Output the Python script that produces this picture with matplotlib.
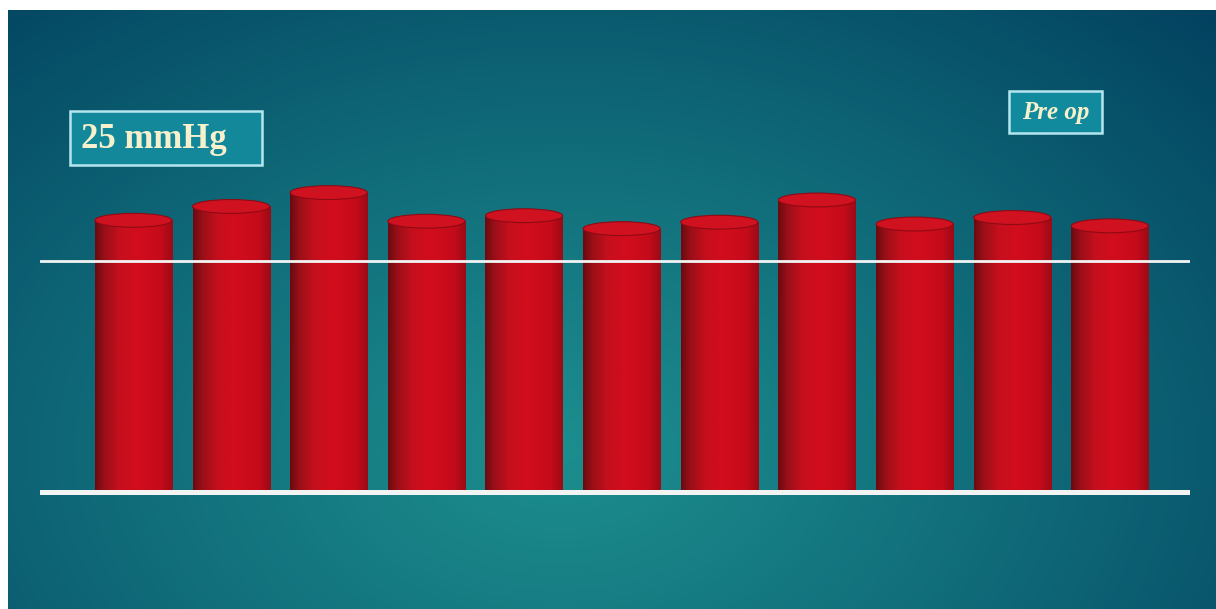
import numpy as np
import matplotlib
matplotlib.use('Agg')
import matplotlib.pyplot as plt
from matplotlib.patches import Ellipse, Rectangle
from matplotlib.colors import LinearSegmentedColormap

# pressure per patient, pre op (mmHg)
patients = np.arange(11)
pressures = [29.4, 30.9, 32.4, 29.3, 29.9, 28.5, 29.2, 31.6, 29.0, 29.7, 28.8]
ref_level = 25
ref_label = '25 mmHg'
group_label = 'Pre op'

W, H = 1216, 609
fig = plt.figure(figsize=(W/100., H/100.), dpi=100, facecolor='white')

# ---- background: radial teal glow, in pixel coordinates
bg = fig.add_axes([0, 0, 1, 1])
bg.set_xlim(0, W)
bg.set_ylim(H, 0)
bg.axis('off')
xx, yy = np.meshgrid(np.arange(8, W), np.arange(10, H))
d = np.sqrt(((xx-560)/760.)**2 + ((yy-450)/520.)**2)
t = np.clip(d/1.2, 0, 1)**1.1
c0 = np.array([28, 142, 142])/255.
c1 = np.array([2, 66, 96])/255.
img = c0[None, None, :]*(1-t[..., None]) + c1[None, None, :]*t[..., None]
bg.imshow(img, extent=(8, W, H, 10), aspect='auto', zorder=0)

# label boxes
bg.add_patch(Rectangle((70, 111), 192, 54, facecolor='#12889a', edgecolor='#b5e6ee', lw=1.8, zorder=2))
bg.text(81, 139, ref_label, fontsize=25, fontweight='heavy', family='Liberation Serif',
        color='#f6f1cc', va='center', ha='left', zorder=3)
bg.add_patch(Rectangle((1009, 91), 93, 42, facecolor='#128a9e', edgecolor='#b5e6ee', lw=1.8, zorder=2))
bg.text(1055.5, 112, group_label, fontsize=18, fontweight='heavy', style='italic', family='Liberation Serif',
        color='#f6f1cc', va='center', ha='center', zorder=3)

# ---- bars
ax = fig.add_axes([40./W, 0, 1150./W, 599./H])
ax.patch.set_alpha(0)
ax.axis('off')

width = 0.79
cyl = LinearSegmentedColormap.from_list('cyl', [
    (0.00, '#6a0a10'), (0.12, '#9a1018'), (0.32, '#c60f1d'),
    (0.55, '#d20d1d'), (0.85, '#c40b1a'), (1.00, '#9a0a16')])
grad = np.linspace(0, 1, 256)[None, :]

bars = ax.bar(patients, pressures, width=width, color='none', edgecolor='none', zorder=2)
cap_h = 1.5
for b, v in zip(bars, pressures):
    x0 = b.get_x()
    im = ax.imshow(grad, cmap=cyl, extent=(x0, x0+width, 0, v), aspect='auto', zorder=2)
    im.set_clip_path(b)
    ax.add_patch(Ellipse((x0+width/2, v), width, cap_h, facecolor='#d01220',
                         edgecolor='#8e0a14', lw=0.8, zorder=3))

# reference and zero lines
ax.axhline(ref_level, color='#f2f4f4', lw=2.0, zorder=4, solid_capstyle='round')
ax.axhline(0, color='#f2f4f4', lw=3.6, zorder=4, solid_capstyle='round')

ax.set_xlim(-0.957, 10.82)
ax.set_ylim(-12.66, 52.16)

fig.savefig('out.png', dpi=100, facecolor='white')
